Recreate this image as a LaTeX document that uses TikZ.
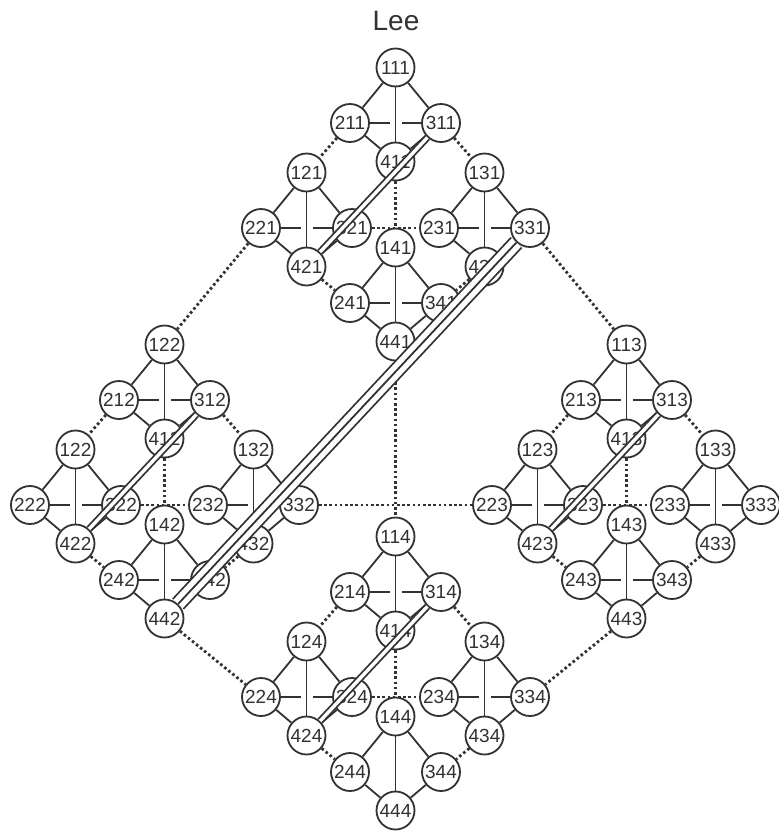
\documentclass[tikz,border=0pt]{standalone}
\usepackage{fontspec}
\setmainfont{Liberation Sans}
\usepackage{tikz}
\definecolor{inkgray}{RGB}{50,50,50}

\begin{document}
\begin{tikzpicture}[
    x=0.5pt, y=-0.5pt,
    vertex/.style={circle, draw=inkgray, fill=white, line width=0.9pt, minimum size=19pt, inner sep=0pt, font=\fontsize{9.5}{9.5}\selectfont, text=inkgray},
    edge/.style={draw=inkgray, line width=0.9pt},
    crossline/.style={edge, preaction={draw=white, line width=6pt, shorten <=1.5pt, shorten >=1.5pt}},
    link/.style={draw=inkgray, line width=1.4pt, dash pattern=on 1.3pt off 1.3pt},
    bridge/.style={draw=inkgray, line width=0.9pt, double=white, double distance=1.7pt},
    widebridge/.style={draw=inkgray, line width=0.9pt, double=white, double distance=6.3pt},
]
    \useasboundingbox (0,0) rectangle (779,831);

    % Title
    \node[font=\fontsize{14}{14}\selectfont, text=inkgray] (title) at (396,21) {Lee};

    % Nodes: position p in unit u of group g
    \foreach \g/\gx/\gy in {1/0/0, 2/-231/277, 3/231/277, 4/0/469} {
        \foreach \u/\ux/\uy in {1/0/0, 2/-89/105, 3/89/105, 4/0/180} {
            \foreach \p/\px/\py in {1/45.5/-55.5, 2/0/0, 3/91/0, 4/45.5/38.5} {
                \node[vertex] (n\p\u\g) at ({350+\gx+\ux+\px}, {123+\gy+\uy+\py})
                    {\ifnum\p\u\g=112 122\else\p\u\g\fi};
            }
        }
    }

    % Units
    \foreach \g in {1,...,4} {
        \foreach \u in {1,...,4} {
            \ifnum\u\g=44 \else \draw[edge] (n2\u\g) -- (n3\u\g); \fi
            \draw[crossline] (n1\u\g) -- (n4\u\g);
            \draw[edge] (n1\u\g) -- (n2\u\g) (n1\u\g) -- (n3\u\g)
                        (n2\u\g) -- (n4\u\g) (n3\u\g) -- (n4\u\g);
        }
    }

    % Dotted links between units and between groups
    \foreach \a/\b in {1/2, 1/3, 1/4, 2/3, 2/4, 3/4} {
        \foreach \g in {1,...,4} {
            \draw[link] (n\b\a\g) -- (n\a\b\g);
        }
        \draw[link] (n\b\b\a) -- (n\a\a\b);
    }

    % Double lines
    \foreach \g in {1,...,4} {
        \draw[bridge] (n31\g) -- (n42\g);
    }
    \draw[widebridge] (n331) -- (n442);
    \draw[edge] (n331) -- (n442);
\end{tikzpicture}
\end{document}
